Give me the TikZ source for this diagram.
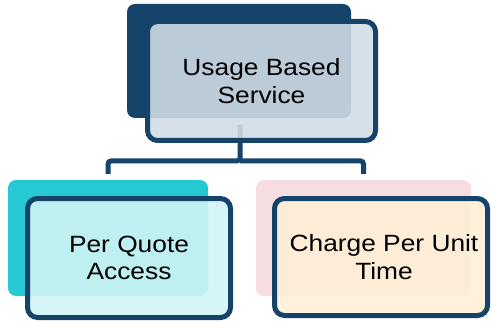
\documentclass[tikz,border=0pt]{standalone}
\usepackage{fontspec}
\newfontfamily\lab[FakeStretch=1.12]{Liberation Sans}
\definecolor{navy}{RGB}{21,67,106}
\definecolor{topfill}{RGB}{209,220,230}
\definecolor{teal}{RGB}{38,201,211}
\definecolor{cyanfill}{RGB}{209,244,245}
\definecolor{pinkback}{RGB}{246,221,225}
\definecolor{creamfill}{RGB}{255,239,213}
\begin{document}
\begin{tikzpicture}[x=1pt,y=-1pt,
  backbox/.style={rectangle,rounded corners=8pt,minimum width=#1,inner sep=0pt},
  frontbox/.style={rectangle,rounded corners=10pt,draw=navy,line width=5pt,fill opacity=0.89,text opacity=1,
     inner sep=0pt,align=center,font=\lab\fontsize{23.5}{27.5}\selectfont},
  conn/.style={draw=navy,line width=5pt,rounded corners=3pt}]
\useasboundingbox (0,0) rectangle (492,323);
% back boxes
\node[backbox=224pt,minimum height=114pt,fill=navy] (tb) at (239,61) {};
\node[backbox=200pt,minimum height=116pt,fill=teal] (lb) at (108,238) {};
\node[backbox=215pt,minimum height=116pt,fill=pinkback] (rb) at (363.5,238) {};
% connectors
\coordinate (c0) at (240,125);
\draw[conn] (c0) -- (240,161) -| ([yshift=6pt]lb.north);
\draw[conn] (240,161) -| ([yshift=6pt]rb.north);
% front boxes
\node[frontbox,fill=topfill,minimum width=228pt,minimum height=119pt] (tf) at (261.5,81) {Usage Based\\Service};
\node[frontbox,fill=cyanfill,minimum width=203pt,minimum height=119pt] (lf) at (129,258) {Per Quote\\Access};
\node[frontbox,fill=creamfill,minimum width=213pt,minimum height=117pt] (rf) at (381,257) {\hspace*{6pt}Charge Per Unit\\\hspace*{6pt}Time};
\end{tikzpicture}
\end{document}
